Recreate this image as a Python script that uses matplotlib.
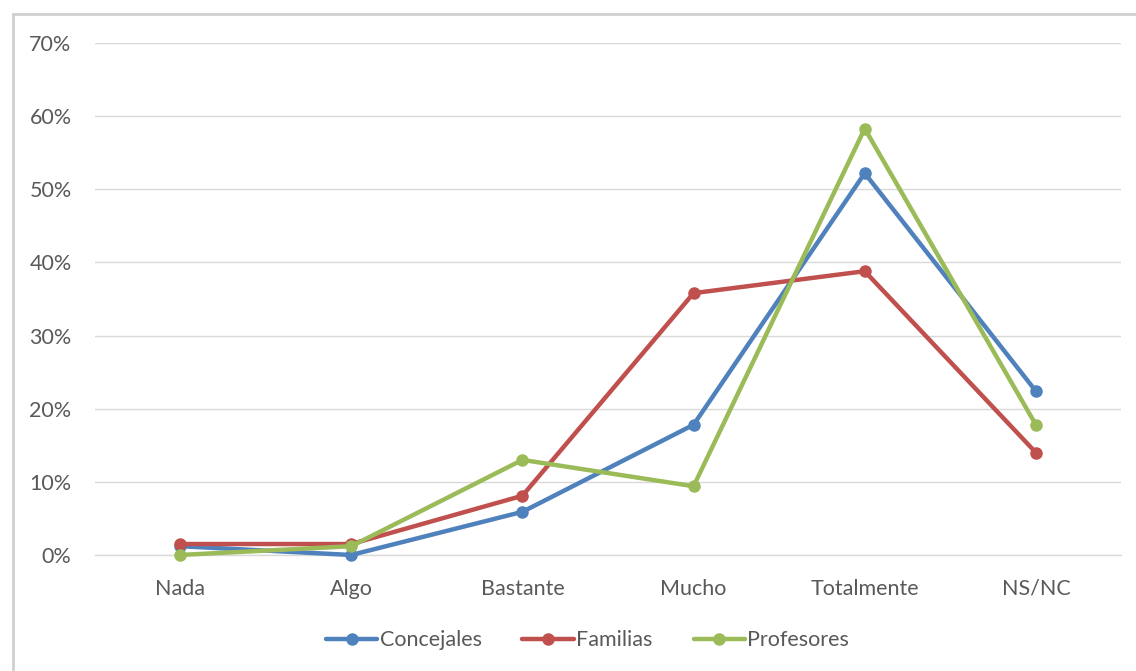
import matplotlib.pyplot as plt
from matplotlib.lines import Line2D
from matplotlib.ticker import FuncFormatter

plt.rcParams['font.family'] = ['Lato', 'DejaVu Sans']

categorias = ['Nada', 'Algo', 'Bastante', 'Mucho', 'Totalmente', 'NS/NC']
concejales = [1.2, 0.0, 5.9, 17.8, 52.2, 22.4]
familias = [1.5, 1.5, 8.1, 35.8, 38.8, 14.0]
profesores = [0.0, 1.2, 13.0, 9.4, 58.3, 17.8]

series = [
    ('Concejales', concejales, '#4F81BD'),
    ('Familias', familias, '#C0504D'),
    ('Profesores', profesores, '#9BBB59'),
]

fig = plt.figure(figsize=(11.36, 6.71), dpi=100)
ax = fig.add_axes([0.0832, 0.1729, 0.904, 0.763])

x = list(range(len(categorias)))
for nombre, valores, color in series:
    ax.plot(x, valores, color=color, linewidth=3.2, marker='o', markersize=8,
            label=nombre, solid_capstyle='round', clip_on=False, zorder=3)

ax.set_xlim(-0.5, len(categorias) - 0.5)
ax.set_ylim(0, 70)
ax.set_yticks(range(0, 71, 10))
ax.yaxis.set_major_formatter(FuncFormatter(lambda v, p: f'{v:.0f}%'))
ax.set_xticks(x)
ax.set_xticklabels(categorias)
ax.grid(axis='y', color='#D9D9D9', linewidth=1)
ax.axhline(0, color='#D9D9D9', linewidth=1, clip_on=False, zorder=1)
ax.set_axisbelow(True)
for s in ax.spines.values():
    s.set_visible(False)
ax.tick_params(length=0, labelsize=15.5, colors='#595959')
ax.tick_params(axis='x', pad=17)
ax.tick_params(axis='y', pad=16.5)

leg = ax.legend(loc='center', bbox_to_anchor=(0.48, -0.167), ncol=3, frameon=False,
                fontsize=15.5, handlelength=2.4, columnspacing=1.9, handletextpad=0.1)
for t in leg.get_texts():
    t.set_color('#595959')

# marco del gráfico
fig.add_artist(Line2D([13 / 1136, 1], [1 - 14 / 671, 1 - 14 / 671],
                      transform=fig.transFigure, color='#D0D0D0', linewidth=2))
fig.add_artist(Line2D([13 / 1136, 13 / 1136], [0, 1 - 14 / 671],
                      transform=fig.transFigure, color='#D0D0D0', linewidth=2))

fig.savefig('out.png', dpi=100)
